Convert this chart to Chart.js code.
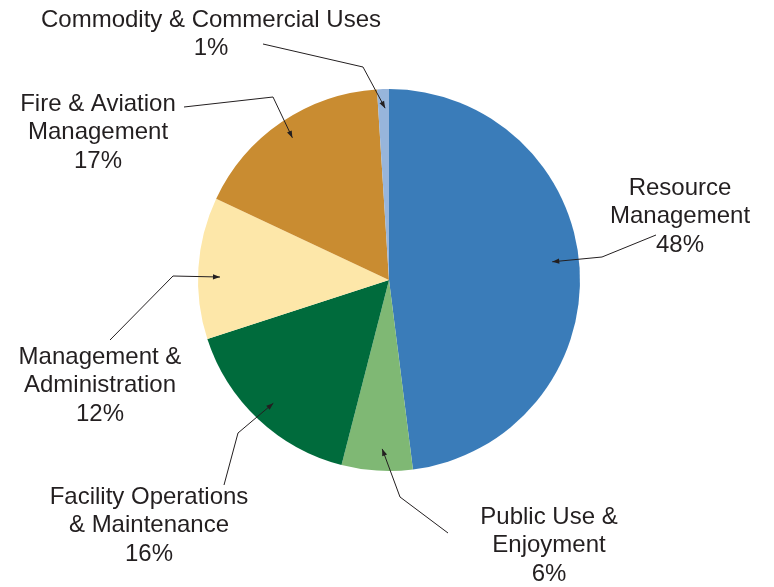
<!DOCTYPE html>
<html>
<head>
<meta charset="utf-8">
<script src="https://cdn.jsdelivr.net/npm/chart.js@4.4.0/dist/chart.umd.min.js"></script>
<style>
	html, body { margin: 0; padding: 0; background: #ffffff; }
	#wrap { width: 774px; height: 587px; position: relative; }
</style>
</head>
<body>
<div id="wrap"><canvas id="budget-pie"></canvas></div>
<script>
// budget share by program area, clockwise from 12 o'clock
const categories = [
	'Resource Management',
	'Public Use & Enjoyment',
	'Facility Operations & Maintenance',
	'Management & Administration',
	'Fire & Aviation Management',
	'Commodity & Commercial Uses'
];
const shares = [48, 6, 16, 12, 17, 1];
const labelLines = [
	['Resource', 'Management'],
	['Public Use &', 'Enjoyment'],
	['Facility Operations', '& Maintenance'],
	['Management &', 'Administration'],
	['Fire & Aviation', 'Management'],
	['Commodity & Commercial Uses']
];
const sliceColors = ['#3a7cb9', '#7fb874', '#006b3c', '#fde7a9', '#c98c31', '#97b5db'];

// callout placement: text block centre, where the leader leaves the text, its bend,
// and where the arrow lands inside the slice (share of the sweep, share of the radius)
const callouts = [
	{ cx: 680, top: 188, from: [656, 235], bend: [602, 257], at: 0.484, depth: 0.86 },
	{ cx: 549, top: 517, from: [448, 533], bend: [400, 497], at: 0.44,  depth: 0.885 },
	{ cx: 149, top: 497, from: [224, 485], bend: [238, 433], at: 0.5,   depth: 0.885 },
	{ cx: 100, top: 357, from: [110, 340], bend: [173, 276], at: 0.44,  depth: 0.885 },
	{ cx: 98,  top: 104, from: [184, 107], bend: [273, 97],  at: 0.5,   depth: 0.9 },
	{ cx: 211, top: 20,  from: [263, 44],  bend: [363, 67],  at: 0.64,  depth: 0.9 }
];

const lineGap = 28.8;
const inkColor = '#231f20';

function drawArrow(ctx, x0, y0, x1, y1) {
	const ang = Math.atan2(y1 - y0, x1 - x0);
	const len = 7, half = 2.6;
	ctx.beginPath();
	ctx.moveTo(x1, y1);
	ctx.lineTo(x1 - len * Math.cos(ang) + half * Math.sin(ang), y1 - len * Math.sin(ang) - half * Math.cos(ang));
	ctx.lineTo(x1 - len * Math.cos(ang) - half * Math.sin(ang), y1 - len * Math.sin(ang) + half * Math.cos(ang));
	ctx.closePath();
	ctx.fill();
}

const calloutPlugin = {
	id: 'callouts',
	afterDraw(chart) {
		const ctx = chart.ctx;
		const arcs = chart.getDatasetMeta(0).data;
		ctx.save();
		ctx.strokeStyle = inkColor;
		ctx.fillStyle = inkColor;
		ctx.lineWidth = 1;
		arcs.forEach((arc, i) => {
			const p = arc.getProps(['x', 'y', 'startAngle', 'endAngle', 'outerRadius'], true);
			const c = callouts[i];
			const ang = p.startAngle + (p.endAngle - p.startAngle) * c.at;
			const r = p.outerRadius * c.depth;
			const tx = p.x + r * Math.cos(ang);
			const ty = p.y + r * Math.sin(ang);
			ctx.beginPath();
			ctx.moveTo(c.from[0], c.from[1]);
			ctx.lineTo(c.bend[0], c.bend[1]);
			ctx.lineTo(tx, ty);
			ctx.stroke();
			drawArrow(ctx, c.bend[0], c.bend[1], tx, ty);

			ctx.font = '24px "Liberation Sans", Arial, sans-serif';
			ctx.textAlign = 'center';
			ctx.textBaseline = 'middle';
			const lines = labelLines[i].concat([shares[i] + '%']);
			lines.forEach((t, k) => ctx.fillText(t, c.cx, c.top + k * lineGap));
		});
		ctx.restore();
	}
};

new Chart(document.getElementById('budget-pie'), {
	type: 'pie',
	data: {
		labels: categories,
		datasets: [{
			data: shares,
			backgroundColor: sliceColors,
			borderWidth: 0
		}]
	},
	options: {
		responsive: true,
		maintainAspectRatio: false,
		animation: false,
		layout: { padding: { top: 89, bottom: 116, left: 198, right: 194 } },
		plugins: { legend: { display: false }, tooltip: { enabled: false } }
	},
	plugins: [calloutPlugin]
});
</script>
</body>
</html>
